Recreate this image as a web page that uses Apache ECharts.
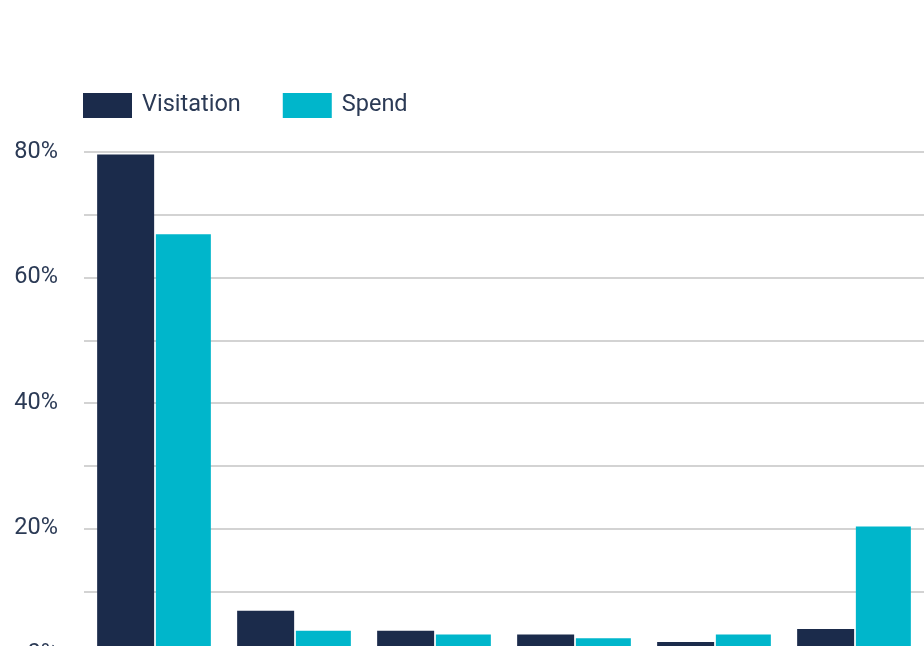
<!DOCTYPE html>
<html>
<head>
<meta charset="utf-8">
<script src="https://cdn.jsdelivr.net/npm/echarts@6/dist/echarts.min.js"></script>
<style>
  html, body { margin: 0; padding: 0; background: #fff; }
  #chart { width: 924px; height: 646px; }
</style>
</head>
<body>
<div id="chart"></div>
<script>
// values (percent)
const categories = ['A', 'B', 'C', 'D', 'E', 'F']
const visitation = [79.6, 6.9, 3.7, 3.1, 1.9, 4.0]
const spend = [66.9, 3.7, 3.1, 2.5, 3.1, 20.3]

const chart = echarts.init(document.getElementById('chart'))

chart.setOption({
  animation: false,
  textStyle: { fontFamily: 'Roboto' },
  legend: {
    left: 83,
    top: 93,
    padding: 0,
    icon: 'rect',
    itemWidth: 49,
    itemHeight: 25,
    itemGap: 42,
    textStyle: { fontSize: 23.5, color: '#2b3a55', padding: [12, 0, 0, 5] },
    data: ['Visitation', 'Spend']
  },
  grid: { left: 84, right: 0, top: 152, bottom: -8, outerBoundsMode: 'none' },
  xAxis: {
    type: 'category',
    data: categories,
    axisLine: { show: false },
    axisTick: { show: false },
    axisLabel: { show: false }
  },
  yAxis: {
    type: 'value',
    min: 0,
    max: 80,
    interval: 10,
    axisLine: { show: false },
    axisTick: { show: false },
    axisLabel: {
      color: '#2b3a55',
      fontSize: 23.5,
      margin: 26,
      formatter: v => (v % 20 === 0 ? v + '%' : '')
    },
    splitLine: { lineStyle: { color: '#d3d3d3', width: 2 } }
  },
  series: [
    {
      name: 'Visitation',
      type: 'bar',
      data: visitation,
      barWidth: 57,
      barGap: '3%',
      itemStyle: { color: '#1b2b4b' }
    },
    {
      name: 'Spend',
      type: 'bar',
      data: spend,
      barWidth: 55,
      itemStyle: { color: '#00b6cb' }
    }
  ]
})
</script>
</body>
</html>
